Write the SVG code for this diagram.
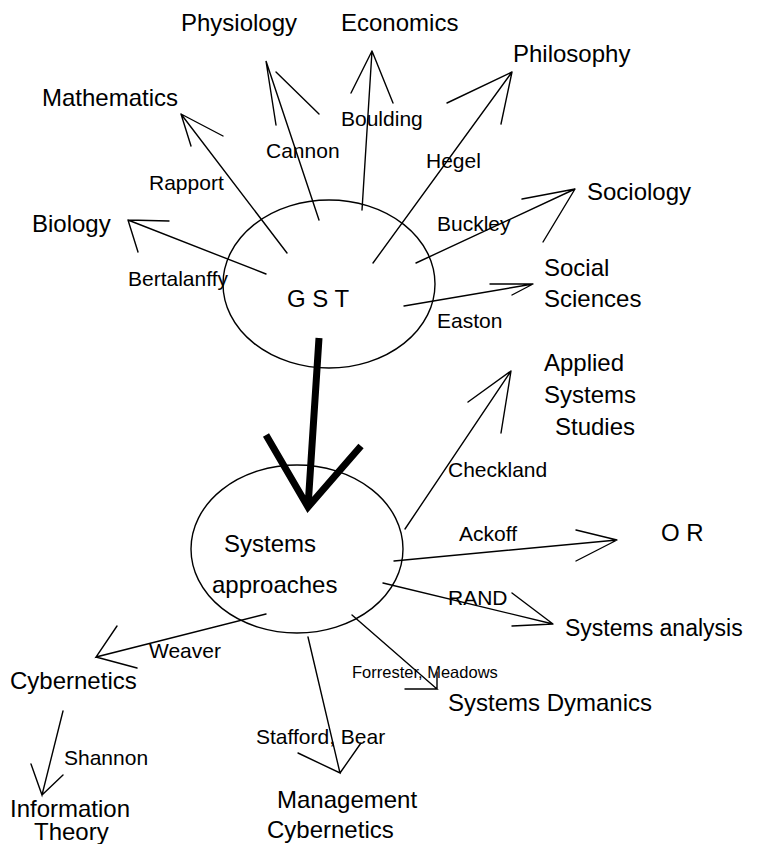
<svg xmlns="http://www.w3.org/2000/svg" width="757" height="844" viewBox="0 0 757 844">
<style>
text{font-family:"Liberation Sans",Arial,sans-serif;fill:#000}
.big{font-size:24px}
.sm{font-size:21px}
.xs{font-size:16.5px}
.ln{stroke:#000;stroke-width:1.4;fill:none;stroke-linecap:round}
.node{fill:#fff;stroke:#000;stroke-width:1.4}
</style>
<rect width="757" height="844" fill="#fff"/>
<g id="gst"><ellipse class="node" cx="329" cy="284" rx="106" ry="84"/><text class="big" x="287" y="307">G S T</text></g>
<g id="sysapp"><ellipse class="node" cx="297" cy="549" rx="106" ry="84"/><text class="big" x="224" y="552">Systems</text><text class="big" x="212" y="593">approaches</text></g>
<g id="connectors">
<g id="c-phys" class="ln"><path d="M319 220L266 61L276 125M276 72L319 114"/></g>
<g id="c-econ" class="ln"><path d="M362 210L372 51L351 93M372 51L393 103"/></g>
<g id="c-math" class="ln"><path d="M287 253L181 114L223 136M181 114L191 146"/></g>
<g id="c-bio" class="ln"><path d="M266 274L128 220L169 221M128 220L138 252"/></g>
<g id="c-phil" class="ln"><path d="M373 263L512 72L447 103M512 72L501 124"/></g>
<g id="c-soc" class="ln"><path d="M416 263L575 189L522 199M575 189L543 242"/></g>
<g id="c-ss" class="ln"><path d="M404 306L533 284L490 284M533 284L512 295"/></g>
<g id="c-main"><path d="M319 338L308 507M266 435L308 507L361 446" fill="none" stroke="#000" stroke-width="7" stroke-linejoin="miter"/></g>
<g id="c-ass" class="ln"><path d="M405 529L511 371L468 402M511 371L501 433"/></g>
<g id="c-or" class="ln"><path d="M394 561L617 540L576 530M617 540L576 561"/></g>
<g id="c-sa" class="ln"><path d="M383 583L553 624L512 593M553 624L512 626"/></g>
<g id="c-sd" class="ln"><path d="M352 615L437 689L405 689M437 689L437 672"/></g>
<g id="c-mc" class="ln"><path d="M308 637L340 773L298 753M340 773L361 743"/></g>
<g id="c-cyb" class="ln"><path d="M266 614L96 657L117 626M96 657L137 668"/></g>
<g id="c-it" class="ln"><path d="M63 711L42 795L31 764M42 795L63 775"/></g>
</g>
<g id="labels">
<text class="sm" x="266" y="158">Cannon</text>
<text class="sm" x="341" y="126">Boulding</text>
<text class="sm" x="149" y="190">Rapport</text>
<text class="sm" x="128" y="286">Bertalanffy</text>
<text class="sm" x="426" y="168">Hegel</text>
<text class="sm" x="437" y="231">Buckley</text>
<text class="sm" x="437" y="328">Easton</text>
<text class="sm" x="448" y="477">Checkland</text>
<text class="sm" x="459" y="541">Ackoff</text>
<text class="sm" x="448" y="605">RAND</text>
<text class="xs" x="352" y="678">Forrester, Meadows</text>
<text class="sm" x="256" y="744">Stafford, Bear</text>
<text class="sm" x="149" y="658">Weaver</text>
<text class="sm" x="64" y="765">Shannon</text>
</g>
<g id="physiology"><text class="big" x="181" y="31">Physiology</text></g>
<g id="economics"><text class="big" x="341" y="31">Economics</text></g>
<g id="mathematics"><text class="big" x="42" y="106">Mathematics</text></g>
<g id="biology"><text class="big" x="32" y="232">Biology</text></g>
<g id="philosophy"><text class="big" x="513" y="62">Philosophy</text></g>
<g id="sociology"><text class="big" x="587" y="200">Sociology</text></g>
<g id="social"><text class="big" x="544" y="276">Social</text><text class="big" x="544" y="307">Sciences</text></g>
<g id="applied"><text class="big" x="544" y="371">Applied</text><text class="big" x="544" y="403">Systems</text><text class="big" x="555" y="435">Studies</text></g>
<g id="or"><text class="big" x="661" y="541">O R</text></g>
<g id="sysanalysis"><text class="big" x="565" y="636" style="font-size:23px">Systems analysis</text></g>
<g id="sysdyn"><text class="big" x="448" y="711">Systems Dymanics</text></g>
<g id="cybernetics"><text class="big" x="10" y="689">Cybernetics</text></g>
<g id="infotheory"><text class="big" x="10" y="817">Information</text><text class="big" x="34" y="840">Theory</text></g>
<g id="mgmtcyb"><text class="big" x="277" y="808">Management</text><text class="big" x="267" y="838">Cybernetics</text></g>
</svg>
